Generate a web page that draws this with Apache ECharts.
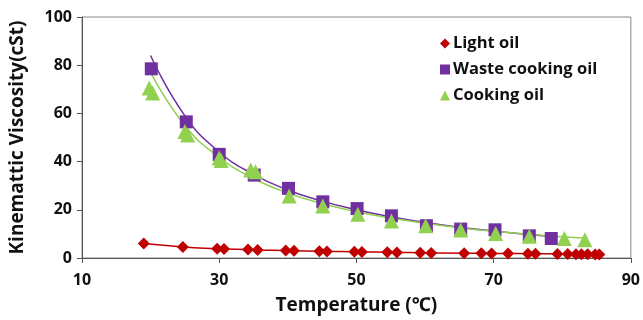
<!DOCTYPE html>
<html>
<head>
<meta charset="utf-8">
<script src="https://cdn.jsdelivr.net/npm/echarts@6/dist/echarts.min.js"></script>
<style>
  html, body { margin: 0; padding: 0; background: #fff; }
  #chart { width: 643px; height: 320px; }
</style>
</head>
<body>
<div id="chart"></div>
<script>
// measured points
const lightTemp = [19.0, 24.7, 29.7, 30.7, 34.2, 35.6, 39.7, 40.9, 44.6, 45.7, 49.7, 50.8, 54.5, 55.9, 59.3, 60.9, 65.7, 68.2, 69.7, 72.1, 75.0, 76.1, 79.3, 80.8, 82.0, 82.8, 83.7, 84.8, 85.4]
const lightVisc = [6.0, 4.6, 3.8, 3.7, 3.5, 3.3, 3.1, 3.0, 2.8, 2.7, 2.6, 2.5, 2.4, 2.3, 2.2, 2.1, 2.0, 2.0, 1.9, 1.9, 1.8, 1.8, 1.7, 1.7, 1.6, 1.6, 1.6, 1.5, 1.5]

const wasteTemp = [20.1, 25.2, 30.0, 35.1, 40.1, 45.1, 50.1, 55.1, 60.2, 65.2, 70.2, 75.2, 78.4]
const wasteVisc = [78.5, 56.5, 43.0, 34.4, 28.9, 23.3, 20.5, 17.5, 13.4, 12.0, 11.7, 9.2, 8.1]

const cookTemp = [19.8, 20.3, 25.0, 25.4, 30.0, 30.3, 34.6, 35.3, 40.2, 45.1, 50.2, 55.1, 60.1, 65.2, 70.3, 75.2, 80.3, 83.3]
const cookVisc = [70.5, 68.5, 52.5, 51.0, 41.5, 40.5, 36.5, 35.8, 25.7, 21.6, 18.2, 15.4, 13.4, 11.6, 10.2, 9.0, 8.1, 7.6]

// trend lines
const wasteFitTemp = [20.0, 25, 30, 35, 40, 45, 50, 55, 60, 65, 70, 75, 78.4]
const wasteFitVisc = [84.0, 59.0, 44.0, 34.7, 28.2, 23.6, 20.0, 17.1, 14.8, 12.8, 11.2, 9.8, 9.0]
const cookFitTemp = [20.0, 25, 30, 35, 40, 45, 50, 55, 60, 65, 70, 75, 80, 83.3]
const cookFitVisc = [77.0, 55.0, 41.8, 33.0, 27.0, 22.6, 19.2, 16.6, 14.4, 12.6, 11.1, 9.9, 8.8, 8.2]

const xTicks = [10, 30, 50, 70, 90]
const yTicks = [0, 20, 40, 60, 80, 100]

const RED = '#c00000'
const PURPLE = '#7030a0'
const GREEN = '#92d050'
const FONT = '"Open Sans", "Noto Sans", sans-serif'

function pairs(xs, ys) {
  return xs.map((x, i) => [x, ys[i]])
}

const chart = echarts.init(document.getElementById('chart'))

const option = {
  animation: false,
  textStyle: { fontFamily: FONT },
  grid: {
    left: 81, right: 12, top: 17, bottom: 61,
    show: true, borderColor: '#888', borderWidth: 1
  },
  legend: {
    data: [
      { name: 'Light oil', itemStyle: { color: RED } },
      { name: 'Waste cooking oil', itemStyle: { color: PURPLE } },
      { name: 'Cooking oil', itemStyle: { color: GREEN } }
    ],
    orient: 'vertical',
    left: 435, top: 30,
    itemGap: 9, itemWidth: 10, itemHeight: 10,
    textStyle: { fontSize: 16.5, fontWeight: 'bold', color: '#111', fontFamily: FONT, padding: [0, 0, 0, -2] }
  },
  xAxis: {
    type: 'value', min: 10, max: 90, interval: 20,
    name: 'Temperature (℃)', nameLocation: 'middle', nameGap: 38,
    nameTextStyle: { fontSize: 19, fontWeight: 'bold', color: '#111' },
    axisLine: { lineStyle: { color: '#555' } },
    axisTick: { show: true, length: 5, lineStyle: { color: '#555' } },
    axisLabel: {
      fontSize: 16, fontWeight: 'bold', color: '#111', margin: 14,
      formatter: v => xTicks.includes(v) ? String(v) : ''
    },
    splitLine: { show: false }
  },
  yAxis: {
    type: 'value', min: 0, max: 100, interval: 20,
    name: 'Kinemattic Viscosity(cSt)', nameLocation: 'middle', nameGap: 55,
    nameTextStyle: { fontSize: 19, fontWeight: 'bold', color: '#111' },
    axisLine: { show: true, lineStyle: { color: '#555' } },
    axisTick: { show: true, length: 5, lineStyle: { color: '#555' } },
    axisLabel: {
      fontSize: 16, fontWeight: 'bold', color: '#111', margin: 10,
      formatter: v => yTicks.includes(v) ? String(v) : ''
    },
    splitLine: { show: false }
  },
  series: [
    {
      name: 'Light oil fit', type: 'line', data: pairs(lightTemp, lightVisc),
      showSymbol: false, smooth: true, lineStyle: { color: RED, width: 1.5 }, z: 1
    },
    {
      name: 'Waste cooking oil fit', type: 'line', data: pairs(wasteFitTemp, wasteFitVisc),
      showSymbol: false, smooth: true, lineStyle: { color: PURPLE, width: 1.5 }, z: 1
    },
    {
      name: 'Cooking oil fit', type: 'line', data: pairs(cookFitTemp, cookFitVisc),
      showSymbol: false, smooth: true, lineStyle: { color: GREEN, width: 1.5 }, z: 1
    },
    {
      name: 'Light oil', type: 'scatter', data: pairs(lightTemp, lightVisc),
      symbol: 'diamond', symbolSize: 12, itemStyle: { color: RED, opacity: 1 }, z: 3
    },
    {
      name: 'Waste cooking oil', type: 'scatter', data: pairs(wasteTemp, wasteVisc),
      symbol: 'rect', symbolSize: 13, itemStyle: { color: PURPLE, opacity: 1 }, z: 2
    },
    {
      name: 'Cooking oil', type: 'scatter', data: pairs(cookTemp, cookVisc),
      symbol: 'triangle', symbolSize: 15, itemStyle: { color: GREEN, opacity: 1 }, z: 4
    }
  ]
}

chart.setOption(option)
</script>
</body>
</html>
